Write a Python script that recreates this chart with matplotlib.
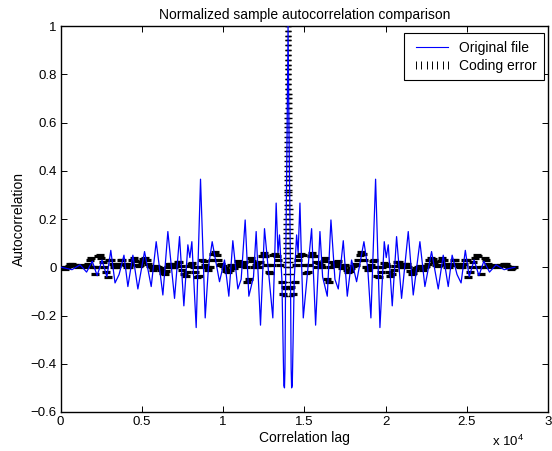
import numpy as np
import matplotlib
matplotlib.use("Agg")
import matplotlib.pyplot as plt
from matplotlib.lines import Line2D

plt.rcParams['font.family'] = ['Liberation Sans', 'DejaVu Sans']
plt.rcParams['mathtext.fontset'] = 'custom'
plt.rcParams['mathtext.rm'] = 'Liberation Sans'

# ---- data (one-sided, autocorrelation is symmetric about the centre lag) ----
center_lag = 14000
blue_offsets = [0, 60, 140, 190, 220, 260, 380, 527, 620, 732, 830, 937, 1450, 1696, 1963,
                2127, 2414, 2640, 2886, 3091, 3399, 3645, 3911, 4219, 4670, 4900, 5100, 5388,
                5655, 5921, 6044, 6167, 6413, 6680, 6987, 7398, 7705, 8116, 8423, 8833, 9244,
                9551, 9859, 10100, 10400, 10650, 10911, 11150, 11450, 11750, 12050, 12400,
                12800, 13300, 13961]
blue_values = [1.0, 0.55, 0.05, -0.42, -0.5, -0.49, -0.05, 0.134, 0.06, 0.266, 0.02, -0.21,
               0.16, -0.24, 0.148, -0.04, -0.12, 0.196, -0.05, -0.09, 0.11, -0.12, 0.03, -0.06,
               0.106, 0.0, -0.21, 0.365, -0.25, 0.106, 0.04, 0.093, -0.16, 0.127, -0.129, 0.148,
               -0.115, 0.106, -0.08, 0.065, -0.09, 0.05, -0.08, 0.05, -0.03, -0.065, 0.07, -0.04,
               0.03, -0.035, 0.025, -0.02, 0.01, -0.01, 0.0]

spike_offsets = [0, 2, 4, 6, 8, 10, 12, 14, 16, 18, 20, 22, 24, 26, 28, 30, 32, 34, 36, 38,
                 40, 42, 44, 46, 48, 50, 52, 54, 56, 58, 60, 62, 64, 66, 68, 70, 75, 80, 85, 90,
                 95, 100, 105, 110, 115, 120, 125, 130, 135, 140, 145, 150, 155, 160, 165, 170]
spike_values = [1.0, 0.98, 0.96, 0.94, 0.92, 0.9, 0.88, 0.86, 0.84, 0.82, 0.8, 0.78, 0.76,
                0.74, 0.72, 0.7, 0.68, 0.66, 0.64, 0.62, 0.6, 0.58, 0.56, 0.54, 0.52, 0.5, 0.48,
                0.46, 0.44, 0.42, 0.4, 0.38, 0.36, 0.34, 0.32, 0.31, 0.3, 0.28, 0.26, 0.24, 0.22,
                0.2, 0.18, 0.16, 0.14, 0.12, 0.1, 0.08, 0.06, 0.04, 0.02, 0.0, -0.03, -0.06,
                -0.09, -0.12]

err_offsets = list(range(200, 14000, 100))
err_values = [
    -0.08, -0.11, -0.06, 0.01, 0.03, 0.045, 0.055, 0.05, 0.01, -0.025,
    -0.02, 0.01, 0.045, 0.058, 0.045, 0.02, 0.0, 0.016, 0.01, 0.0,
    0.025, 0.037, -0.05, -0.06, 0.0, 0.02, 0.015, 0.005, 0.02, 0.025,
    0.01, -0.004, 0.0, 0.01, -0.01, -0.02, -0.015, -0.005, 0.005, 0.015,
    0.01, 0.03, 0.05, 0.065, 0.055, 0.03, 0.0, -0.01, 0.0, 0.01,
    0.025, 0.03, 0.0, -0.035, -0.04, -0.02, 0.0, 0.017, 0.015, 0.005,
    -0.02, -0.036, -0.03, -0.01, 0.005, 0.02, 0.023, 0.01, 0.0, 0.003,
    0.012, 0.015, 0.0, -0.015, -0.03, -0.025, -0.01, -0.005, 0.003, 0.005,
    -0.005, -0.01, 0.0, 0.005, 0.015, 0.03, 0.04, 0.035, 0.02, 0.01,
    0.005, 0.01, 0.025, 0.037, 0.03, 0.015, 0.0, 0.003, 0.01, 0.015,
    0.028, 0.03, 0.015, 0.005, 0.0, 0.003, 0.015, 0.028, 0.03, -0.04,
    -0.02, 0.0, 0.02, 0.04, 0.05, 0.045, 0.0, -0.03, 0.0, 0.037,
    0.03, 0.015, 0.005, 0.003, 0.005, 0.01, 0.005, 0.003, 0.005, 0.008,
    0.01, 0.012, 0.012, 0.005, 0.0, -0.008, -0.005, 0.0]

x_ticks = [0, 5000, 10000, 15000, 20000, 25000, 30000]
x_tick_labels = ['0', '0.5', '1', '1.5', '2', '2.5', '3']
y_ticks = [-0.6, -0.4, -0.2, 0, 0.2, 0.4, 0.6, 0.8, 1.0]
y_tick_labels = ['\u22120.6', '\u22120.4', '\u22120.2', '0', '0.2', '0.4', '0.6', '0.8', '1']

# ---- build symmetric series ----
bo = np.array(blue_offsets, float)
bv = np.array(blue_values, float)
blue_x = np.concatenate([center_lag - bo[::-1][:-1], center_lag + bo])
blue_y = np.concatenate([bv[::-1][:-1], bv])

so = np.array(spike_offsets, float)
sv = np.array(spike_values, float)
spike_x = np.concatenate([center_lag - so, center_lag + so])
spike_y = np.concatenate([sv, sv])

eo = np.array(err_offsets, float)
ev = np.array(err_values, float)
err_x = np.concatenate([center_lag - eo, center_lag + eo])
err_y = np.concatenate([ev, ev])

fig = plt.figure(figsize=(5.52, 4.51), dpi=100)
ax = fig.add_axes([60.6 / 552, 1 - 412 / 451, 487.4 / 552, 386 / 451])

ax.plot(spike_x, spike_y, linestyle='None', marker='_', color='black',
        markersize=5, markeredgewidth=1.0, zorder=2)
ax.plot(err_x, err_y, linestyle='None', marker='_', color='black',
        markersize=6, markeredgewidth=2.3, zorder=2)
ax.plot(blue_x, blue_y, color='blue', linewidth=0.9, zorder=3)

ax.set_xlim(0, 30000)
ax.set_ylim(-0.6, 1.0)
ax.set_xticks(x_ticks)
ax.set_xticklabels(x_tick_labels)
ax.set_yticks(y_ticks)
ax.set_yticklabels(y_tick_labels)
ax.tick_params(direction='in', length=4, width=0.7, top=True, right=True,
               labelsize=9.5, pad=3)
for s in ax.spines.values():
    s.set_linewidth(1.0)

ax.set_title('Normalized sample autocorrelation comparison', fontsize=10, pad=5)
ax.set_xlabel('Correlation lag', fontsize=10, labelpad=2)
ax.set_ylabel('Autocorrelation', fontsize=10, labelpad=3)
ax.text(0.885, -0.088, 'x 10$^{4}$', transform=ax.transAxes, fontsize=9.5,
        ha='left', va='baseline')

h1 = Line2D([], [], color='blue', linewidth=0.8)
h2 = Line2D([], [], color='black', linestyle='None', marker='|', markersize=6,
            markeredgewidth=0.7)
leg = ax.legend([h1, h2], ['Original file', 'Coding error'], loc='upper right',
                bbox_to_anchor=(0.992, 0.982), borderaxespad=0, fancybox=False,
                edgecolor='black', fontsize=10, numpoints=7, handlelength=2.95,
                handletextpad=0.45, borderpad=0.55, labelspacing=0.3, framealpha=1)
leg.get_frame().set_linewidth(0.8)

fig.savefig('out.png', dpi=100)
